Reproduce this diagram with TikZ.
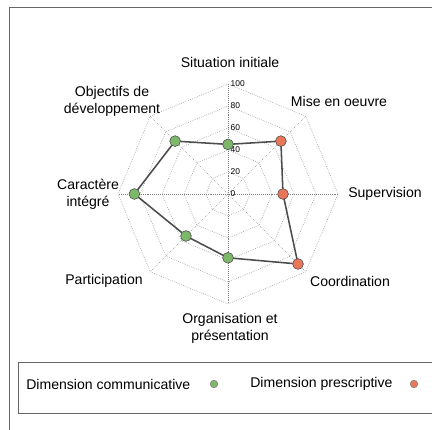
\documentclass[tikz,border=0pt]{standalone}
\usepackage{fontspec}
\setmainfont{Liberation Sans}
\usepackage{tikz}

\definecolor{comgreen}{RGB}{125,184,106}
\definecolor{preorange}{RGB}{232,118,90}
\tikzset{
  grid/.style={gray, densely dotted, line width=0.4pt},
  frame/.style={gray!80!black, line width=0.7pt},
  dotcom/.style={circle, draw=black!70, fill=comgreen, minimum size=2.7mm, inner sep=0pt},
  dotpre/.style={circle, draw=black!70, fill=preorange, minimum size=2.7mm, inner sep=0pt},
  legcom/.style={circle, draw=black!50, fill=comgreen, minimum size=1.9mm, inner sep=0pt},
  legpre/.style={circle, draw=black!50, fill=preorange, minimum size=1.9mm, inner sep=0pt},
  axislabel/.style={font=\fontsize{10}{12}\selectfont, align=center},
  ticklabel/.style={font=\fontsize{6}{7}\selectfont, anchor=west, inner sep=0pt}
}

\begin{document}
\begin{tikzpicture}
\path[use as bounding box, clip] (-5.7,4.85) rectangle (5.1,-5.9);
\draw[frame] (-5.475,4.65) rectangle (5.5,-6.3);
\draw[frame] (-5.25,-4.2) rectangle (5.4,-5.475);

% grille
\draw[grid] (0:0.55) -- (45:0.55) -- (90:0.55) -- (135:0.55) -- (180:0.55) -- (225:0.55) -- (270:0.55) -- (315:0.55) -- cycle;
\draw[grid] (0:1.1) -- (45:1.1) -- (90:1.1) -- (135:1.1) -- (180:1.1) -- (225:1.1) -- (270:1.1) -- (315:1.1) -- cycle;
\draw[grid] (0:1.65) -- (45:1.65) -- (90:1.65) -- (135:1.65) -- (180:1.65) -- (225:1.65) -- (270:1.65) -- (315:1.65) -- cycle;
\draw[grid] (0:2.2) -- (45:2.2) -- (90:2.2) -- (135:2.2) -- (180:2.2) -- (225:2.2) -- (270:2.2) -- (315:2.2) -- cycle;
\draw[grid] (0:2.75) -- (45:2.75) -- (90:2.75) -- (135:2.75) -- (180:2.75) -- (225:2.75) -- (270:2.75) -- (315:2.75) -- cycle;
\draw[grid] (0:2.75) -- (180:2.75);
\draw[grid] (45:2.75) -- (225:2.75);
\draw[grid] (90:2.75) -- (270:2.75);
\draw[grid] (135:2.75) -- (315:2.75);

\node[ticklabel] (t0) at (0.06,0) {0};
\node[ticklabel] (t20) at (0.06,0.55) {20};
\node[ticklabel] (t40) at (0.06,1.1) {40};
\node[ticklabel] (t60) at (0.06,1.65) {60};
\node[ticklabel] (t80) at (0.06,2.2) {80};
\node[ticklabel] (t100) at (0.06,2.75) {100};

% valeurs
\coordinate (si) at (90:1.24);
\coordinate (mo) at (45:1.87);
\coordinate (su) at (0:1.375);
\coordinate (co) at (-45:2.475);
\coordinate (or) at (-90:1.595);
\coordinate (pa) at (-135:1.485);
\coordinate (ca) at (180:2.34);
\coordinate (ob) at (135:1.87);
\draw[black!70, line width=1.1pt] (si) -- (mo) -- (su) -- (co) -- (or) -- (pa) -- (ca) -- (ob) -- cycle;
\node[dotcom] (psi) at (si) {};
\node[dotpre] (pmo) at (mo) {};
\node[dotpre] (psu) at (su) {};
\node[dotpre] (pco) at (co) {};
\node[dotcom] (por) at (or) {};
\node[dotcom] (ppa) at (pa) {};
\node[dotcom] (pca) at (ca) {};
\node[dotcom] (pob) at (ob) {};

% axes
\node[axislabel] (situation) at (0.05,3.3) {Situation initiale};
\node[axislabel] (mise) at (2.775,2.325) {Mise en oeuvre};
\node[axislabel] (supervision) at (3.925,0) {Supervision};
\node[axislabel] (coordination) at (3.05,-2.175) {Coordination};
\node[axislabel] (organisation) at (0.05,-3.35) {Organisation et\\présentation};
\node[axislabel] (participation) at (-3.1,-2.175) {Participation};
\node[axislabel] (caractere) at (-3.5,0) {Caractère\\intégré};
\node[axislabel] (objectifs) at (-2.9,2.325) {Objectifs de\\développement};

% legende
\node[axislabel, anchor=west, inner sep=0pt] (lcom) at (-5.05,-4.75) {Dimension communicative};
\node[legcom] (dcom) at (-0.35,-4.75) {};
\node[axislabel, anchor=west, inner sep=0pt] (lpre) at (0.55,-4.75) {Dimension prescriptive};
\node[legpre] (dpre) at (4.65,-4.75) {};

\end{tikzpicture}
\end{document}
